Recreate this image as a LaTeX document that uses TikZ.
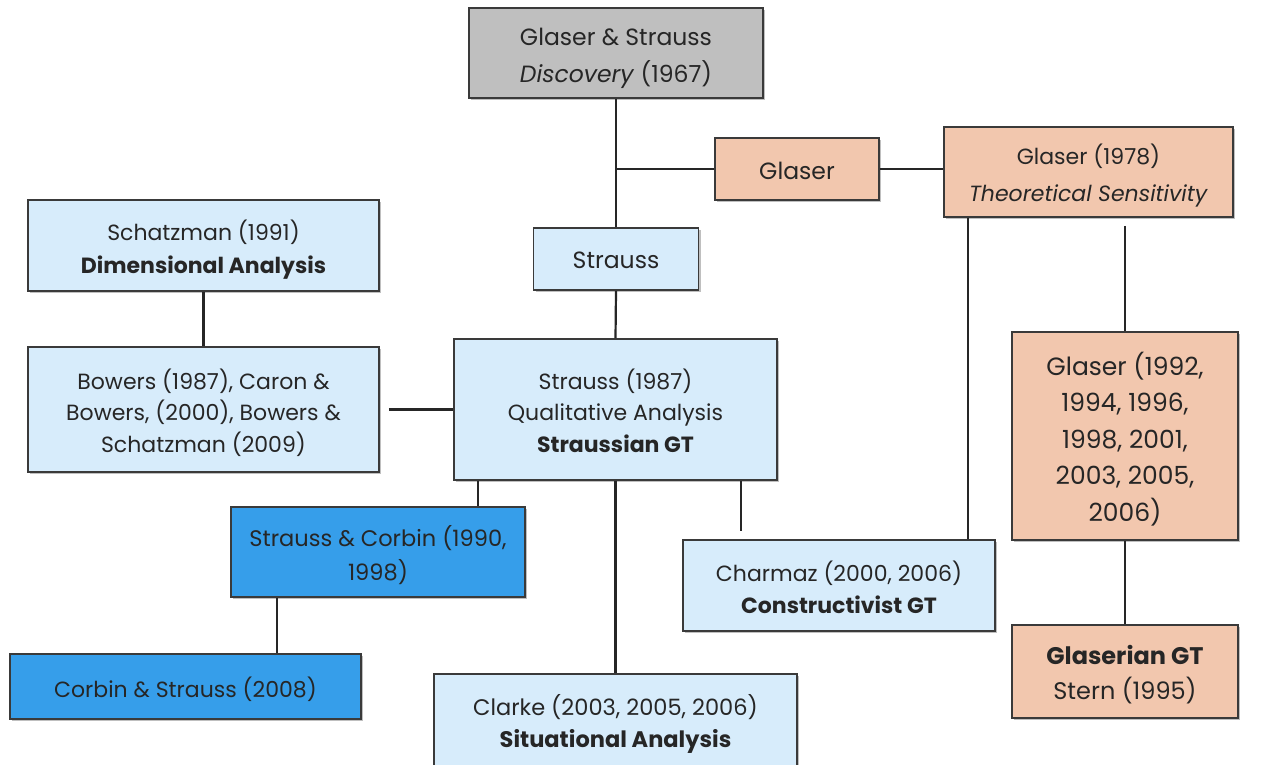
\documentclass[tikz,border=0pt]{standalone}
\usepackage{fontspec}
\setmainfont{Poppins}
\usetikzlibrary{shadows}
\definecolor{boxgray}{HTML}{BFBFBF}
\definecolor{peach}{HTML}{F2C7AE}
\definecolor{paleblue}{HTML}{D7ECFB}
\definecolor{midblue}{HTML}{369EEA}
\definecolor{edge}{HTML}{3A3A3A}
\begin{document}
\begin{tikzpicture}[x=1pt,y=-1pt,
  box/.style={draw=edge, line width=1.8pt, rectangle, inner sep=0pt,
    drop shadow={shadow xshift=2pt, shadow yshift=-2pt, opacity=0.25, fill=black}},
  txt/.style={align=center, inner sep=0pt, text=black!85, yshift=-3pt},
  big/.style={font=\fontsize{23.5}{37}\selectfont},
  small/.style={font=\fontsize{22}{31.5}\selectfont},
  link/.style={draw=black!85, line width=2.2pt}]
\useasboundingbox (0,0) rectangle (1263,765);
\fill[white] (0,0) rectangle (1263,765);

% boxes
\node[box, fill=boxgray, minimum width=294pt, minimum height=90pt] (top) at (616,53) {};
\node[box, fill=peach, minimum width=164pt, minimum height=62pt] (glaser) at (797,169) {};
\node[box, fill=peach, minimum width=289pt, minimum height=90pt] (g78) at (1088.5,172) {};
\node[box, fill=peach, minimum width=226pt, minimum height=208pt] (g92) at (1125,436) {};
\node[box, fill=peach, minimum width=226pt, minimum height=93pt] (glaserian) at (1125,671.5) {};
\node[box, fill=paleblue, minimum width=165pt, minimum height=62pt] (strauss) at (616,259) {};
\node[box, fill=paleblue, minimum width=351pt, minimum height=91pt] (schatz) at (203.5,245.5) {};
\node[box, fill=paleblue, minimum width=351pt, minimum height=125pt] (bowers) at (203.5,409.5) {};
\node[box, fill=paleblue, minimum width=323pt, minimum height=141pt] (s87) at (615.5,409.5) {};
\node[box, fill=midblue, minimum width=294pt, minimum height=90pt] (sc) at (378,552) {};
\node[box, fill=midblue, minimum width=351pt, minimum height=65pt] (cs08) at (185.5,686.5) {};
\node[box, fill=paleblue, minimum width=312pt, minimum height=91pt] (charmaz) at (839,585.5) {};
\node[box, fill=paleblue, minimum width=363pt, minimum height=94pt] (clarke) at (615.5,721) {};

% box texts
\node[txt, big, yshift=-2pt] (top-t) at (top.center) {Glaser \& Strauss\\\textit{Discovery} (1967)};
\node[txt, big, yshift=1pt] (glaser-t) at (glaser.center) {Glaser};
\node[txt, font=\fontsize{22}{37}\selectfont, yshift=-1pt] (g78-t) at (g78.center)
  {Glaser (1978)\\\textit{Theoretical Sensitivity}};
\node[txt, font=\fontsize{25}{36.5}\selectfont] (g92-t) at (g92.center)
  {Glaser (1992,\\1994, 1996,\\1998, 2001,\\2003, 2005,\\2006)};
\node[txt, font=\fontsize{24}{35}\selectfont] (glaserian-t) at (glaserian.center)
  {\textbf{Glaserian GT}\\Stern (1995)};
\node[txt, big, yshift=2pt] (strauss-t) at (strauss.center) {Strauss};
\node[txt, font=\fontsize{22}{33}\selectfont, yshift=-1pt] (schatz-t) at (schatz.center)
  {Schatzman (1991)\\\textbf{Dimensional Analysis}};
\node[txt, small] (bowers-t) at (bowers.center)
  {Bowers (1987), Caron \&\\Bowers, (2000), Bowers \&\\Schatzman (2009)};
\node[txt, small, yshift=2pt] (s87-t) at (s87.center)
  {Strauss (1987)\\Qualitative Analysis\\\textbf{Straussian GT}};
\node[txt, font=\fontsize{22.5}{34}\selectfont, yshift=-0.5pt] (sc-t) at (sc.center)
  {Strauss \& Corbin (1990,\\1998)};
\node[txt, small] (cs08-t) at (cs08.center) {Corbin \& Strauss (2008)};
\node[txt, font=\fontsize{22}{32}\selectfont, yshift=1pt] (charmaz-t) at (charmaz.center)
  {Charmaz (2000, 2006)\\\textbf{Constructivist GT}};
\node[txt, font=\fontsize{22.5}{32}\selectfont, yshift=0.5pt] (clarke-t) at (clarke.center)
  {Clarke (2003, 2005, 2006)\\\textbf{Situational Analysis}};

% vertical guide positions for the drop lines
\coordinate (xa) at (968,0);
\coordinate (xb) at (478,0);
\coordinate (xc) at (741,0);
\coordinate (xd) at (277,0);

% connectors
\path[link] (top.south) -- (strauss.north);
\path[link] (glaser.west -| top.south) -- (glaser.west);
\path[link] (glaser.east) -- (glaser.east -| g78.west);
\path[link] (g78.south -| xa) -- (charmaz.north -| xa);
\path[link, shorten <=8pt] (g78.south -| g92.north) -- (g92.north);
\path[link] (g92.south) -- (glaserian.north);
\path[link] (strauss.south) -- (s87.north);
\path[link] (schatz.south) -- (bowers.north);
\path[link, shorten <=9pt] (bowers.east) -- (bowers.east -| s87.west);
\path[link] (s87.south -| xb) -- (sc.north -| xb);
\path[link] (s87.south) -- (clarke.north);
\path[link, shorten >=8pt] (s87.south -| xc) -- (charmaz.north -| xc);
\path[link] (sc.south -| xd) -- (cs08.north -| xd);
\end{tikzpicture}
\end{document}
